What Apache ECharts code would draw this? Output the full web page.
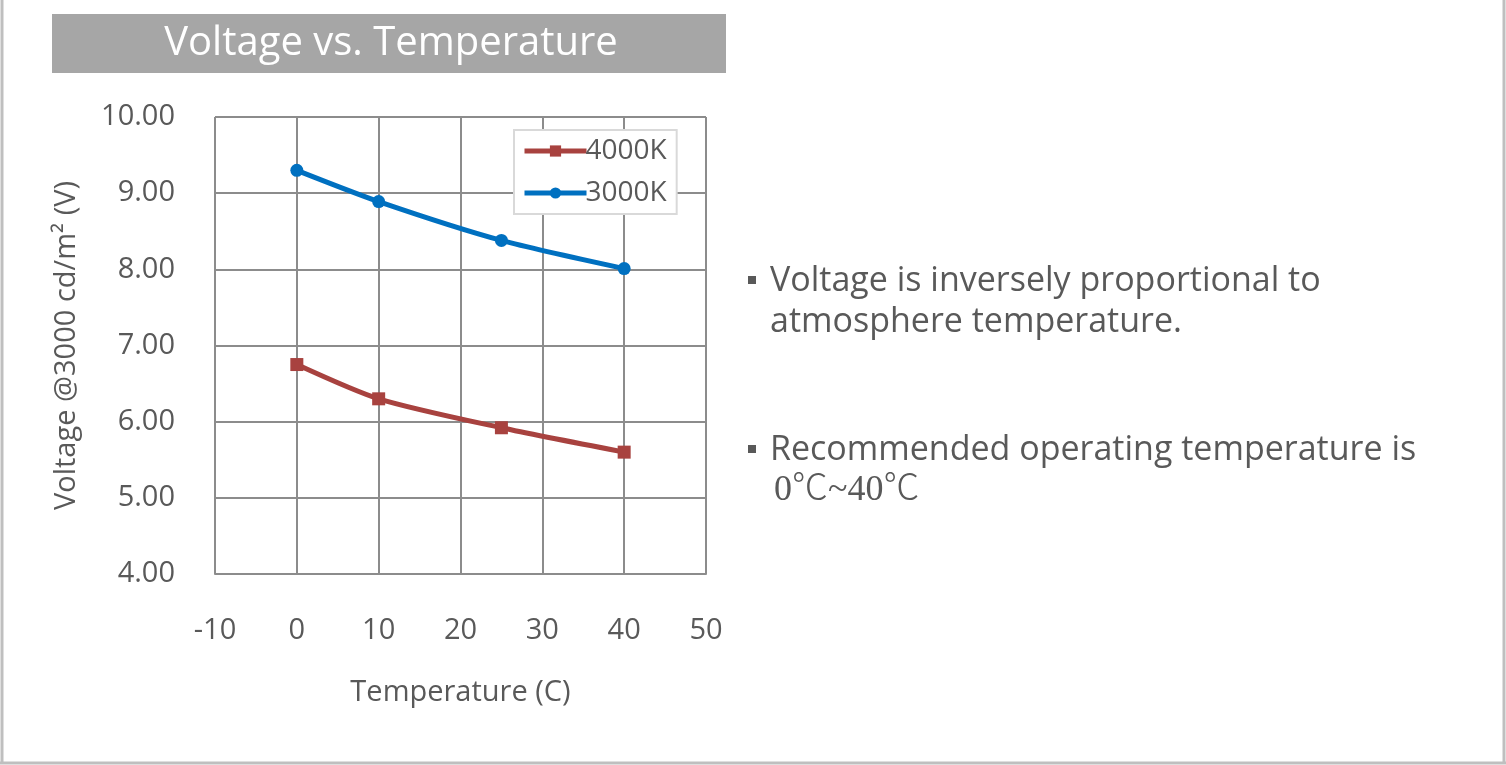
<!DOCTYPE html>
<html>
<head>
<meta charset="utf-8">
<style>
  html, body { margin: 0; padding: 0; background: #ffffff; }
  #chart { width: 1506px; height: 765px; }
</style>
<script src="https://cdn.jsdelivr.net/npm/echarts@6/dist/echarts.min.js"></script>
</head>
<body>
<div id="chart"></div>
<script>
// Measured drive voltage at 3000 cd/m² against ambient temperature
const temperatures = [0, 10, 25, 40];
const volts4000K = [6.75, 6.30, 5.92, 5.60];
const volts3000K = [9.30, 8.89, 8.38, 8.01];
const seriesNames = ['4000K', '3000K'];
const titleText = 'Voltage vs. Temperature';
const notes = [
  ['Voltage is inversely proportional to', 'atmosphere temperature.'],
  ['Recommended operating temperature is', '0℃~40℃']
];

const FONT = '"Open Sans", "Noto Sans", sans-serif';
const TEXT = '#595959';
const GRIDC = '#8c8c8c';
const RED = '#a8423f';
const BLUE = '#0070c0';

const pairs = (xs, ys) => xs.map((x, i) => [x, ys[i]]);

const chart = echarts.init(document.getElementById('chart'));

const graphics = [
  // outer frame (left, right, bottom edges)
  { type: 'line', shape: { x1: 2, y1: 0, x2: 2, y2: 763 }, style: { stroke: '#bfbfbf', lineWidth: 3 } },
  { type: 'line', shape: { x1: 1504, y1: 0, x2: 1504, y2: 763 }, style: { stroke: '#bfbfbf', lineWidth: 3 } },
  { type: 'line', shape: { x1: 0, y1: 763, x2: 1506, y2: 763 }, style: { stroke: '#bfbfbf', lineWidth: 3 } },
  // title banner
  { type: 'rect', shape: { x: 52, y: 14, width: 674, height: 59 }, style: { fill: '#a6a6a6' } },
  { type: 'text', x: 391, y: 44, style: { text: titleText, fill: '#ffffff', font: '40px ' + FONT, align: 'center', verticalAlign: 'middle' } }
];

// bullet notes on the right
const noteTops = [281, 450];
notes.forEach((lines, k) => {
  const y0 = noteTops[k];
  graphics.push({ type: 'rect', shape: { x: 748, y: y0 - 5, width: 8, height: 8 }, style: { fill: TEXT } });
  lines.forEach((ln, j) => {
    const isRange = ln.indexOf('℃') >= 0;
    graphics.push({
      type: 'text', x: isRange ? 774 : 770, y: y0 + j * 41,
      style: {
        text: ln, fill: TEXT,
        font: (isRange ? '300 36px "Liberation Serif", "Noto Sans CJK SC", serif' : '34px ' + FONT),
        align: 'left', verticalAlign: 'middle'
      }
    });
  });
});

const option = {
  backgroundColor: '#ffffff',
  animation: false,
  grid: { left: 215, right: 800, top: 117, bottom: 191, containLabel: false },
  legend: {
    data: seriesNames,
    orient: 'vertical',
    left: 514, top: 130,
    padding: [7, 10, 7, 8],
    itemGap: 14,
    itemWidth: 62, itemHeight: 14,
    lineStyle: { width: 5 },
    backgroundColor: '#ffffff',
    borderColor: '#d9d9d9', borderWidth: 2,
    textStyle: { fontFamily: FONT, fontSize: 28, color: TEXT, padding: [0, 0, 0, -6] }
  },
  xAxis: {
    type: 'value', min: -10, max: 50, interval: 10,
    name: 'Temperature (C)', nameLocation: 'middle', nameGap: 104,
    nameTextStyle: { fontFamily: FONT, fontSize: 29, color: TEXT },
    axisLine: { show: true, lineStyle: { color: GRIDC, width: 2 } },
    axisTick: { show: false },
    axisLabel: { margin: 42, fontFamily: FONT, fontSize: 29, color: TEXT },
    splitLine: { show: true, lineStyle: { color: GRIDC, width: 2 } }
  },
  yAxis: {
    type: 'value', min: 4, max: 10, interval: 1,
    name: 'Voltage @3000 cd/m² (V)', nameLocation: 'middle', nameGap: 134, nameRotate: 90,
    nameTextStyle: { fontFamily: FONT, fontSize: 29, color: TEXT },
    axisLine: { show: true, lineStyle: { color: GRIDC, width: 2 } },
    axisTick: { show: false },
    axisLabel: { margin: 40, fontFamily: FONT, fontSize: 29, color: TEXT, formatter: v => v.toFixed(2) },
    splitLine: { show: true, lineStyle: { color: GRIDC, width: 2 } }
  },
  series: [
    {
      name: seriesNames[0], type: 'line', data: pairs(temperatures, volts4000K),
      smooth: 0.25, symbol: 'rect', symbolSize: 13,
      lineStyle: { color: RED, width: 5 },
      itemStyle: { color: RED }
    },
    {
      name: seriesNames[1], type: 'line', data: pairs(temperatures, volts3000K),
      smooth: 0.25, symbol: 'circle', symbolSize: 13,
      lineStyle: { color: BLUE, width: 5 },
      itemStyle: { color: BLUE }
    }
  ],
  graphic: graphics
};

chart.setOption(option);
</script>
</body>
</html>
